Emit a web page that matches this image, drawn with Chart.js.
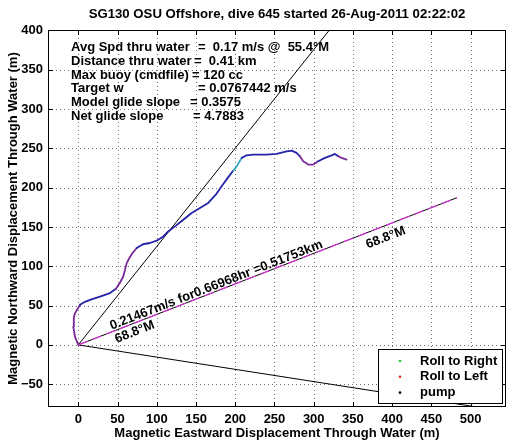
<!DOCTYPE html>
<html><head><meta charset="utf-8">
<script src="https://cdn.jsdelivr.net/npm/chart.js@4/dist/chart.umd.min.js"></script>
<style>html,body{margin:0;padding:0;background:#fff;}</style>
</head><body>
<canvas id="c" width="514" height="442" style="display:block;width:514px;height:442px"></canvas>
<script>
// ---- data ----
const trackX = [0, -4.2, -6.4, -5.7, -4.2, -0.4, 2.2, 8.5, 14.9, 27.6, 40.4, 48, 53.1, 57.3, 61.7, 64.6, 68.4, 74.4, 82.4, 91.3, 99.9, 108.3, 114.6, 123.2, 133.8, 144.5, 155, 165.6, 176.3, 183.1, 190.7, 197.5, 201.8, 208.2, 214.5, 222.9, 240, 252.7, 265.5, 271.8, 278.2, 282.4, 286.6, 293, 299.4, 305.7, 314.3, 322.8, 327, 331.2, 335.5, 341.9];
const trackY = [0, 10.2, 23.3, 34.4, 40.4, 46.5, 51, 54.8, 57.3, 61.5, 65.9, 71.3, 79, 87, 104, 109.6, 115.9, 123.2, 128, 129.6, 132.5, 138, 144.3, 150.7, 159.2, 167.8, 174.1, 180.5, 192.4, 202.5, 212.7, 221.7, 227.1, 237.8, 241.1, 242, 242, 242.9, 246.2, 247.1, 244.2, 239.9, 233.5, 229.3, 229.3, 233.5, 237.8, 241.1, 242.9, 239.9, 237.8, 235.7];
const headingX = [0, 482.5];
const headingY = [0, 187.2];
const glideLineX = [0, 326];
const glideLineY = [0, 408];
const currentLineX = [0, 540];
const currentLineY = [0, -84];
const rollRightX = [], rollRightY = [];
const rollLeftX = [], rollLeftY = [];
const pumpX = [], pumpY = [];
const xTicks = [0, 50, 100, 150, 200, 250, 300, 350, 400, 450, 500];
const yTicks = [-50, 0, 50, 100, 150, 200, 250, 300, 350, 400];
const xRange = [-38.6, 545];
const yRange = [-79, 400.5];
const titleText = 'SG130 OSU Offshore, dive 645 started 26-Aug-2011 02:22:02';
const xTitle = 'Magnetic Eastward Displacement Through Water (m)';
const yTitle = 'Magnetic Northward Displacement Through Water (m)';
const infoLabels = ['Avg Spd thru water', 'Distance thru water', 'Max buoy (cmdfile)', 'Target w', 'Model glide slope', 'Net glide slope'];
const infoValues = ['=  0.17 m/s @  55.4°M', '=  0.41 km', '= 120 cc', '= 0.0767442 m/s', '= 0.3575', '= 4.7883'];
const headingText = '0.21467m/s for0.66968hr =0.51753km';
const headingDirText = '68.8°M';

// ---- styling ----
const FONT = "'Liberation Sans', Arial, Helvetica, sans-serif";
const FS = 13;
const TITLE_FS = 13.2;
const BLUE = '#2424a8', PURPLE = '#7a2a96', CYAN = '#3aa6c8', MAGENTA = '#dd33dd';
const purpleSegs = [[0, 6], [11, 17], [41, 45], [49, 51]];
const cyanSegs = [[31, 33]];
const inR = (i, rs) => rs.some(r => i >= r[0] && i < r[1]);
const infoValueX = [127, 123, 121, 127, 119, 122];
const pts = (xs, ys) => xs.map((v, i) => ({x: v, y: ys[i]}));

const framePlugin = {
  id: 'frame',
  beforeDatasetsDraw(chart) {
    const {ctx, chartArea: a, scales: {x, y}} = chart;
    ctx.save();
    ctx.strokeStyle = 'rgba(0,0,0,0.55)';
    ctx.lineWidth = 1;
    ctx.setLineDash([1, 3]);
    xTicks.forEach(v => {
      const px = Math.round(x.getPixelForValue(v)) + 0.5;
      ctx.beginPath(); ctx.moveTo(px, a.top); ctx.lineTo(px, a.bottom); ctx.stroke();
    });
    yTicks.forEach(v => {
      const py = Math.round(y.getPixelForValue(v)) + 0.5;
      ctx.beginPath(); ctx.moveTo(a.left, py); ctx.lineTo(a.right, py); ctx.stroke();
    });
    ctx.restore();
  },
  afterDatasetsDraw(chart) {
    const {ctx, chartArea: a, scales: {x, y}} = chart;
    ctx.save();
    ctx.strokeStyle = '#000'; ctx.lineWidth = 1; ctx.setLineDash([]);
    ctx.strokeRect(Math.round(a.left) + 0.5, Math.round(a.top) + 0.5, Math.round(a.right - a.left) - 1, Math.round(a.bottom - a.top) - 1);
    const tl = 5;
    ctx.beginPath();
    xTicks.forEach(v => {
      const px = Math.round(x.getPixelForValue(v)) + 0.5;
      ctx.moveTo(px, a.bottom); ctx.lineTo(px, a.bottom - tl);
      ctx.moveTo(px, a.top); ctx.lineTo(px, a.top + tl);
    });
    yTicks.forEach(v => {
      const py = Math.round(y.getPixelForValue(v)) + 0.5;
      ctx.moveTo(a.left, py); ctx.lineTo(a.left + tl, py);
      ctx.moveTo(a.right, py); ctx.lineTo(a.right - tl, py);
    });
    ctx.stroke();
    ctx.fillStyle = '#000';
    ctx.font = 'bold ' + FS + 'px ' + FONT;
    ctx.textBaseline = 'middle';
    ctx.textAlign = 'left';
    infoLabels.forEach((t, i) => {
      const ty = a.top + 17.5 + 13.8 * i;
      ctx.fillText(t, a.left + 23, ty);
      ctx.fillText(infoValues[i], a.left + 23 + infoValueX[i], ty);
    });
    const x0 = x.getPixelForValue(headingX[0]), y0 = y.getPixelForValue(headingY[0]);
    const x1 = x.getPixelForValue(headingX[1]), y1 = y.getPixelForValue(headingY[1]);
    const ang = Math.atan2(y1 - y0, x1 - x0);
    const at = f => [x0 + (x1 - x0) * f, y0 + (y1 - y0) * f];
    const drawRot = (txt, f, off, base) => {
      const [px, py] = at(f);
      ctx.save();
      ctx.translate(px, py);
      ctx.rotate(ang);
      ctx.textBaseline = base;
      ctx.fillText(txt, 0, off);
      ctx.restore();
    };
    drawRot(headingText, 0.09, -2, 'alphabetic');
    drawRot(headingDirText, 0.09, 2, 'top');
    drawRot(headingDirText, 0.75, 5, 'top');
    ctx.restore();
  },
  afterDraw(chart) {
    const {ctx, chartArea: a} = chart;
    ctx.save();
    ctx.fillStyle = '#000';
    ctx.font = 'bold ' + TITLE_FS + 'px ' + FONT;
    ctx.textAlign = 'center';
    ctx.textBaseline = 'middle';
    ctx.fillText(titleText, (a.left + a.right) / 2, 14.5);
    const bl = a.right - 128, br = a.right - 4, bt = a.bottom - 58, bb = a.bottom - 4;
    ctx.fillStyle = '#fff';
    ctx.fillRect(bl, bt, br - bl, bb - bt);
    ctx.strokeStyle = '#000'; ctx.lineWidth = 1;
    ctx.strokeRect(Math.round(bl) + 0.5, Math.round(bt) + 0.5, Math.round(br - bl), Math.round(bb - bt));
    const items = chart.data.datasets.filter(d => d.inLegend);
    ctx.font = 'bold ' + FS + 'px ' + FONT;
    ctx.textAlign = 'left';
    items.forEach((d, i) => {
      const cy = bt + 12 + 15.8 * i;
      ctx.fillStyle = d.backgroundColor;
      ctx.beginPath(); ctx.arc(bl + 22, cy, 1.3, 0, Math.PI * 2); ctx.fill();
      ctx.fillStyle = '#000';
      ctx.fillText(d.label, bl + 42, cy);
    });
    ctx.restore();
  }
};

const lineDs = (label, xs, ys, color, width, extra) => Object.assign({
  label, data: pts(xs, ys), showLine: true, pointRadius: 0, borderColor: color,
  backgroundColor: color, borderWidth: width, clip: 0, tension: 0
}, extra || {});
const dotDs = (label, xs, ys, color) => ({
  label, data: pts(xs, ys), showLine: false, pointRadius: 1.3, pointBorderWidth: 0,
  backgroundColor: color, borderColor: color, inLegend: true, clip: 0
});
const tickFont = {family: FONT, size: FS, weight: 'bold'};

new Chart(document.getElementById('c'), {
  type: 'scatter',
  data: {
    datasets: [
      dotDs('Roll to Right', rollRightX, rollRightY, '#22cc22'),
      dotDs('Roll to Left', rollLeftX, rollLeftY, '#dd2222'),
      dotDs('pump', pumpX, pumpY, '#000000'),
      lineDs('track', trackX, trackY, BLUE, 1.8, {
        borderCapStyle: 'round', borderJoinStyle: 'round',
        segment: {borderColor: c => inR(c.p0DataIndex, purpleSegs) ? PURPLE : (inR(c.p0DataIndex, cyanSegs) ? CYAN : undefined)}
      }),
      lineDs('heading', headingX, headingY, MAGENTA, 1.2, {borderDash: [10, 5]}),
      lineDs('heading base', headingX, headingY, '#000', 1),
      lineDs('glide', glideLineX, glideLineY, '#000', 1),
      lineDs('current', currentLineX, currentLineY, '#000', 1)
    ]
  },
  options: {
    responsive: false, animation: false, devicePixelRatio: 1,
    layout: {padding: {left: 0, right: 8, top: 30, bottom: 0}},
    plugins: {
      legend: {display: false}, tooltip: {enabled: false}, title: {display: false}
    },
    scales: {
      x: {
        type: 'linear', min: xRange[0], max: xRange[1],
        afterBuildTicks: s => { s.ticks = xTicks.map(v => ({value: v})); },
        afterFit: s => { s.height = 35; s.paddingLeft = 0; s.paddingRight = 0; },
        grid: {display: false, drawTicks: false, tickLength: 0}, border: {display: false},
        ticks: {color: '#000', font: tickFont, padding: 5, maxRotation: 0, autoSkip: false},
        title: {display: true, text: xTitle, color: '#000', font: tickFont, padding: {top: 0, bottom: 1}}
      },
      y: {
        type: 'linear', min: yRange[0], max: yRange[1],
        afterBuildTicks: s => { s.ticks = yTicks.map(v => ({value: v})); },
        afterFit: s => { s.width = 48; s.paddingTop = 0; s.paddingBottom = 0; },
        grid: {display: false, drawTicks: false, tickLength: 0}, border: {display: false},
        ticks: {color: '#000', font: tickFont, padding: 5, autoSkip: false,
          callback: v => String(v).replace('-', '\u2212')},
        title: {display: true, text: yTitle, color: '#000', font: tickFont, padding: {top: 6, bottom: 0}}
      }
    }
  },
  plugins: [framePlugin]
});
</script>
</body></html>
